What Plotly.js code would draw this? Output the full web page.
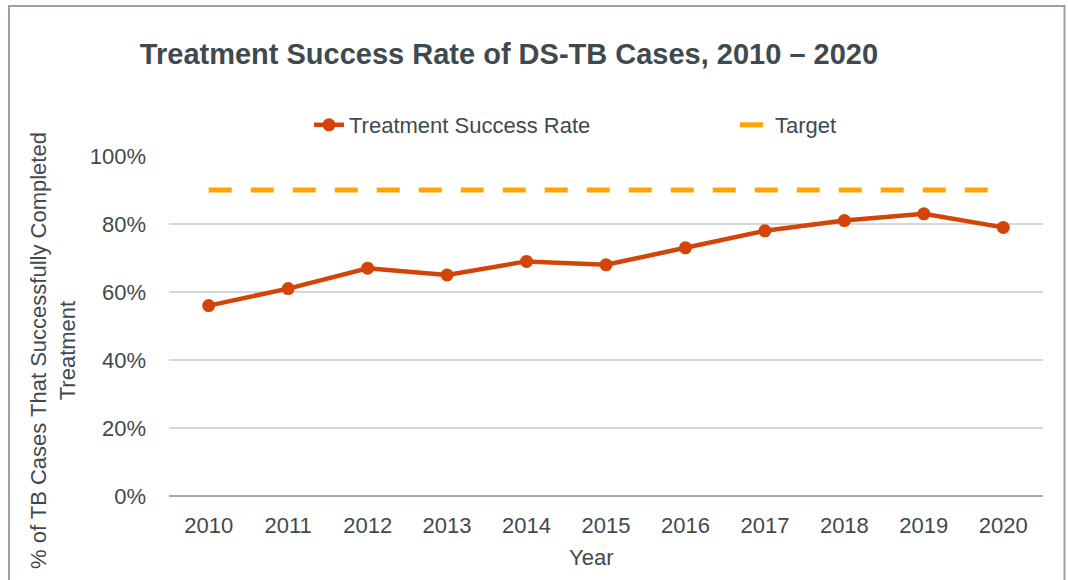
<!DOCTYPE html>
<html>
<head>
<meta charset="utf-8">
<script src="https://cdn.plot.ly/plotly-3.0.1.min.js"></script>
<style>
html,body{margin:0;padding:0;background:#fff;}
#chart{width:1068px;height:580px;}
</style>
</head>
<body>
<div id="chart"></div>
<script>
const years = ["2010","2011","2012","2013","2014","2015","2016","2017","2018","2019","2020"];
const successRate = [56, 61, 67, 65, 69, 68, 73, 78, 81, 83, 79];
const target = [90, 90, 90, 90, 90, 90, 90, 90, 90, 90, 90];
const yTicks = [0, 20, 40, 60, 80, 100];
const yTickLabels = ["0%", "20%", "40%", "60%", "80%", "100%"];
const titleText = "Treatment Success Rate of DS-TB Cases, 2010 – 2020";
const yTitle = "% of TB Cases That Successfully Completed<br>Treatment";
const xTitle = "Year";

const textColor = "#404A4E";
const font = "Liberation Sans, Arial, sans-serif";

// plot area in pixels
const L = 169, R = 25, T = 156, B = 84, W = 1068, H = 580;
const pw = W - L - R, ph = H - T - B;
const px = x => (x - L) / pw;
const py = y => (H - B - y) / ph;

const traces = [
  {
    x: years, y: successRate, name: "Treatment Success Rate",
    type: "scatter", mode: "lines+markers",
    line: {color: "#D44307", width: 4.5},
    marker: {color: "#D44307", size: 13},
    legend: "legend",
    hoverinfo: "skip"
  },
  {
    x: years, y: target, name: "Target",
    type: "scatter", mode: "lines",
    line: {color: "#FFA400", width: 5, dash: "23px,19px"},
    legend: "legend2",
    hoverinfo: "skip"
  }
];

const legendBase = {
  orientation: "h",
  yanchor: "middle", xanchor: "left",
  font: {family: font, size: 22, color: textColor},
  bgcolor: "rgba(0,0,0,0)"
};

const layout = {
  width: W, height: H,
  margin: {l: L, r: R, t: T, b: B},
  paper_bgcolor: "#fff", plot_bgcolor: "#fff",
  font: {family: font, color: textColor, size: 22},
  showlegend: true,
  title: {
    text: "<b>" + titleText + "</b>",
    font: {family: font, size: 29, color: textColor},
    xref: "container", yref: "container",
    x: 509 / W, y: 1 - 54 / H, xanchor: "center", yanchor: "middle"
  },
  legend: Object.assign({}, legendBase, {x: px(309), y: py(125)}),
  legend2: Object.assign({}, legendBase, {x: px(735), y: py(125)}),
  xaxis: {
    type: "category",
    range: [-0.5, 10.5],
    showgrid: false, zeroline: false,
    showline: false,
    ticks: "", ticklabelstandoff: 14,
    tickfont: {family: font, size: 22, color: textColor},
    fixedrange: true
  },
  yaxis: {
    range: [0, 100],
    tickmode: "array", tickvals: yTicks, ticktext: yTickLabels,
    showgrid: true, gridcolor: "#D3D8DA", gridwidth: 2,
    zeroline: true, zerolinecolor: "#A3ABAE", zerolinewidth: 2,
    showline: false, ticks: "", ticklabelstandoff: 22,
    tickfont: {family: font, size: 22, color: textColor},
    fixedrange: true
  },
  annotations: [
    {
      text: yTitle, textangle: -90,
      xref: "paper", yref: "paper",
      x: px(53), y: py(351), xanchor: "center", yanchor: "middle",
      showarrow: false,
      font: {family: font, size: 22, color: textColor}
    },
    {
      text: xTitle,
      xref: "paper", yref: "paper",
      x: px(591), y: py(557), xanchor: "center", yanchor: "middle",
      showarrow: false,
      font: {family: font, size: 22, color: textColor}
    }
  ],
  shapes: [
    {
      type: "rect", xref: "paper", yref: "paper",
      x0: px(9), x1: px(1064.5), y0: py(600), y1: py(6),
      line: {color: "#98A2A6", width: 2}, fillcolor: "rgba(0,0,0,0)",
      layer: "below"
    }
  ]
};

Plotly.newPlot("chart", traces, layout, {displayModeBar: false, staticPlot: true});
</script>
</body>
</html>
